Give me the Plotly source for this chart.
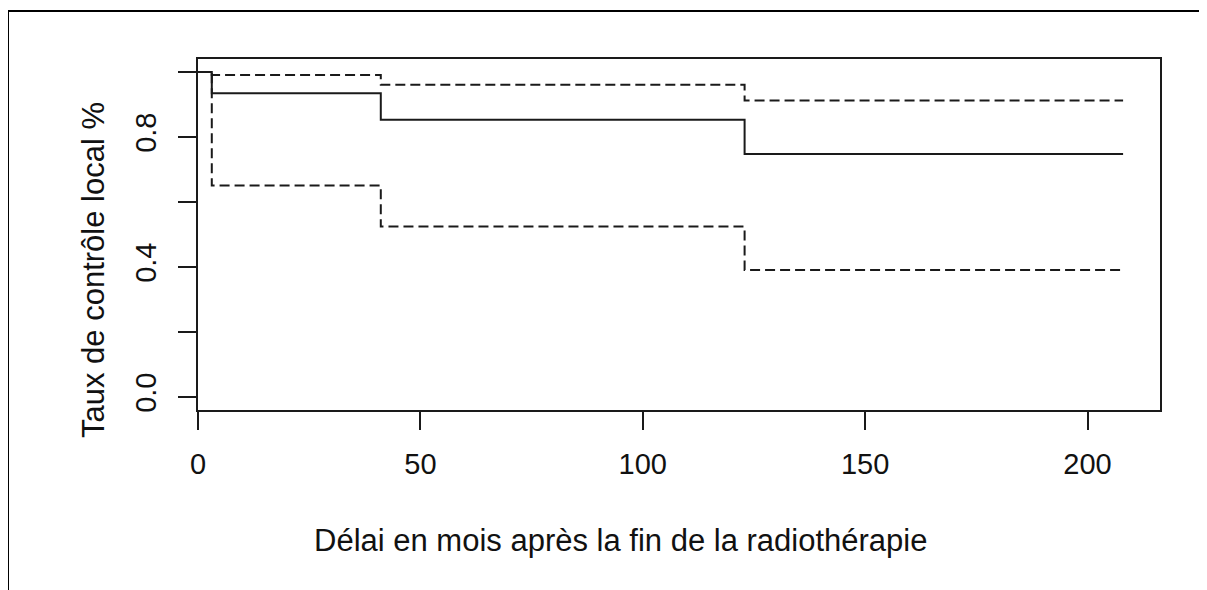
import plotly.graph_objects as go

# Kaplan-Meier estimate with confidence band
times = [0, 3.1, 41.1, 122.9, 208]
survival = [1.0, 0.935, 0.853, 0.7475, 0.7475]
upper_ci = [1.0, 0.991, 0.961, 0.9125, 0.9125]
lower_ci = [1.0, 0.651, 0.5245, 0.391, 0.391]

x_ticks = [0, 50, 100, 150, 200]
y_ticks = [0.0, 0.2, 0.4, 0.6, 0.8, 1.0]
y_ticktext = ["0.0", "", "0.4", "", "0.8", ""]

x_title = "Délai en mois après la fin de la radiothérapie"
y_title = "Taux de contrôle local %"

OFF = 8  # page body margin
W, H = 1199, 582
L, T = 190, 51
PW, PH = 962, 351
R, B = W - L - PW, H - T - PH

def px(x):
    return (x - OFF - L) / PW

def py(y):
    return (H - B - (y - OFF)) / PH

INK = "#1a1a1a"
FONT = "Liberation Sans, Arial, sans-serif"

fig = go.Figure()
fig.add_trace(go.Scatter(x=times, y=upper_ci, mode="lines", line_shape="hv",
                         line=dict(color=INK, width=2, dash="10px,5px"), showlegend=False))
fig.add_trace(go.Scatter(x=times, y=lower_ci, mode="lines", line_shape="hv",
                         line=dict(color=INK, width=2, dash="10px,5px"), showlegend=False))
fig.add_trace(go.Scatter(x=times, y=survival, mode="lines", line_shape="hv",
                         line=dict(color=INK, width=2), showlegend=False))

fig.update_layout(
    width=W, height=H,
    margin=dict(l=L, r=R, t=T, b=B, pad=0),
    paper_bgcolor="white", plot_bgcolor="white",
    font=dict(family=FONT, size=29, color="#111"),
    xaxis=dict(range=[0, 216.3], tickvals=x_ticks, ticks="outside", ticklen=18,
               tickwidth=2, tickcolor=INK, showline=True, linewidth=2, linecolor=INK,
               mirror=True, showgrid=False, zeroline=False, ticklabelstandoff=9,
               tickfont=dict(size=29)),
    yaxis=dict(range=[-0.04, 1.04], tickvals=y_ticks, ticktext=y_ticktext,
               ticks="outside", ticklen=18, tickwidth=2, tickcolor=INK,
               showline=True, linewidth=2, linecolor=INK, mirror=True,
               showgrid=False, zeroline=False, tickangle=-90, ticklabelstandoff=10,
               tickfont=dict(size=29)),
)

# outer frame (left and top edges visible)
fig.add_shape(type="line", xref="paper", yref="paper",
              x0=px(8), x1=px(8), y0=py(11), y1=py(600), line=dict(color="black", width=2))
fig.add_shape(type="line", xref="paper", yref="paper",
              x0=px(8), x1=px(1215), y0=py(11), y1=py(11), line=dict(color="black", width=2))

fig.add_annotation(text=x_title, xref="paper", yref="paper", x=px(620), y=py(540),
                   xanchor="center", yanchor="middle", showarrow=False,
                   font=dict(family=FONT, size=31, color="#111"))
fig.add_annotation(text=y_title, xref="paper", yref="paper", x=px(93), y=py(270),
                   xanchor="center", yanchor="middle", showarrow=False, textangle=-90,
                   font=dict(family=FONT, size=31, color="#111"))

fig.write_html("out.html", config={"displayModeBar": False})
